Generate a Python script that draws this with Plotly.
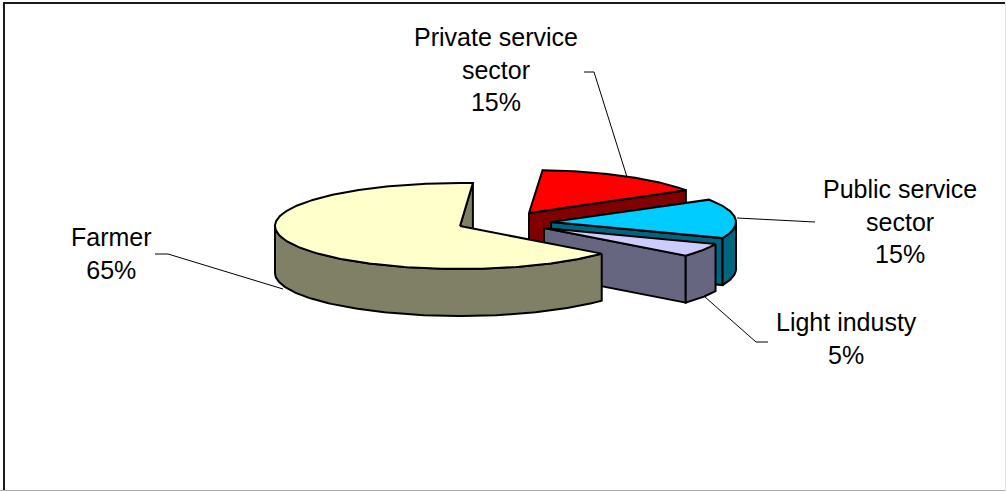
import numpy as np
import plotly.graph_objects as go

# Chart data
categories = ["Farmer", "Private service sector", "Public service sector", "Light industy"]
shares = [65, 15, 15, 5]
label_lines = ["Farmer", "Private service<br>sector", "Public service<br>sector", "Light industy"]

top_colors = ["#FFFFCC", "#FF0000", "#00CCFF", "#CCCCFF"]
wall_colors = ["#808066", "#800000", "#006680", "#666680"]

# Pie geometry, in pixels of the 1006x491 canvas
RX, RY, DEPTH = 185, 43, 47
FIRST_ANGLE = 130  # degrees clockwise from twelve o'clock
tips = [(460, 226), (529, 213), (551, 222), (544, 228)]
draw_order = [1, 2, 3, 0]  # back slices first
label_pos = [(111, 253), (496, 69), (900, 221), (846, 338)]


def rim(tip, a0, a1, n=120):
    t = np.radians(np.linspace(a0, a1, n))
    return tip[0] + RX * np.sin(t), tip[1] - RY * np.cos(t)


def add_poly(fig, xs, ys, fill):
    fig.add_trace(go.Scatter(
        x=xs, y=ys, mode="lines", fill="toself", fillcolor=fill,
        line=dict(color="#000000", width=2), hoverinfo="skip", showlegend=False,
    ))


fig = go.Figure()
edges = FIRST_ANGLE + np.cumsum([0] + [s * 3.6 for s in shares])

for i in draw_order:
    a0, a1 = edges[i], edges[i + 1]
    if a0 >= 360:  # keep angles within one turn for the visibility test
        a0, a1 = a0 - 360, a1 - 360
    tip = tips[i]

    # radial wall at the clockwise end of the slice
    ex, ey = rim(tip, a1, a1, 1)
    add_poly(fig,
             [tip[0], ex[0], ex[0], tip[0], tip[0]],
             [tip[1], ey[0], ey[0] + DEPTH, tip[1] + DEPTH, tip[1]],
             wall_colors[i])

    # outer wall: only the part of the rim facing the viewer
    lo, hi = max(a0, 90), min(a1, 270)
    if hi > lo:
        x, y = rim(tip, lo, hi)
        add_poly(fig,
                 np.r_[x, x[::-1], x[0]],
                 np.r_[y, y[::-1] + DEPTH, y[0]],
                 wall_colors[i])

    # top face
    x, y = rim(tip, a0, a1, 240)
    add_poly(fig, np.r_[tip[0], x, tip[0]], np.r_[tip[1], y, tip[1]], top_colors[i])

# Leader lines from the labels to their slices
leaders = [
    ([155, 168, 283], [254, 254, 289]),
    ([584, 594, 627], [72, 72, 177]),
    ([737, 815], [218, 222]),
    ([705, 756, 768], [297, 342, 342]),
]
for lx, ly in leaders:
    fig.add_trace(go.Scatter(x=lx, y=ly, mode="lines", line=dict(color="#000000", width=1),
                             hoverinfo="skip", showlegend=False))

for text, share, (px, py) in zip(label_lines, shares, label_pos):
    fig.add_annotation(x=px, y=py, text=f"{text}<br>{share}%", showarrow=False,
                       align="center", xanchor="center", yanchor="middle",
                       font=dict(family="Liberation Sans", size=25, color="#000000"))

# Chart area border
fig.add_shape(type="line", x0=3, x1=1006, y0=3, y1=3, line=dict(color="#1a1a1a", width=2))
fig.add_shape(type="line", x0=4, x1=4, y0=2, y1=491, line=dict(color="#1a1a1a", width=2))
fig.add_shape(type="line", x0=0, x1=1006, y0=490.5, y1=490.5, line=dict(color="#aaaaaa", width=1))
fig.add_shape(type="line", x0=1005.5, x1=1005.5, y0=0, y1=491, line=dict(color="#e8e8e8", width=1))

fig.update_layout(
    width=1006, height=491, margin=dict(l=0, r=0, t=0, b=0),
    paper_bgcolor="#ffffff", plot_bgcolor="#ffffff", showlegend=False,
    xaxis=dict(range=[0, 1006], visible=False, fixedrange=True),
    yaxis=dict(range=[491, 0], visible=False, fixedrange=True),
)
fig.write_html("out.html", config={"displayModeBar": False})
